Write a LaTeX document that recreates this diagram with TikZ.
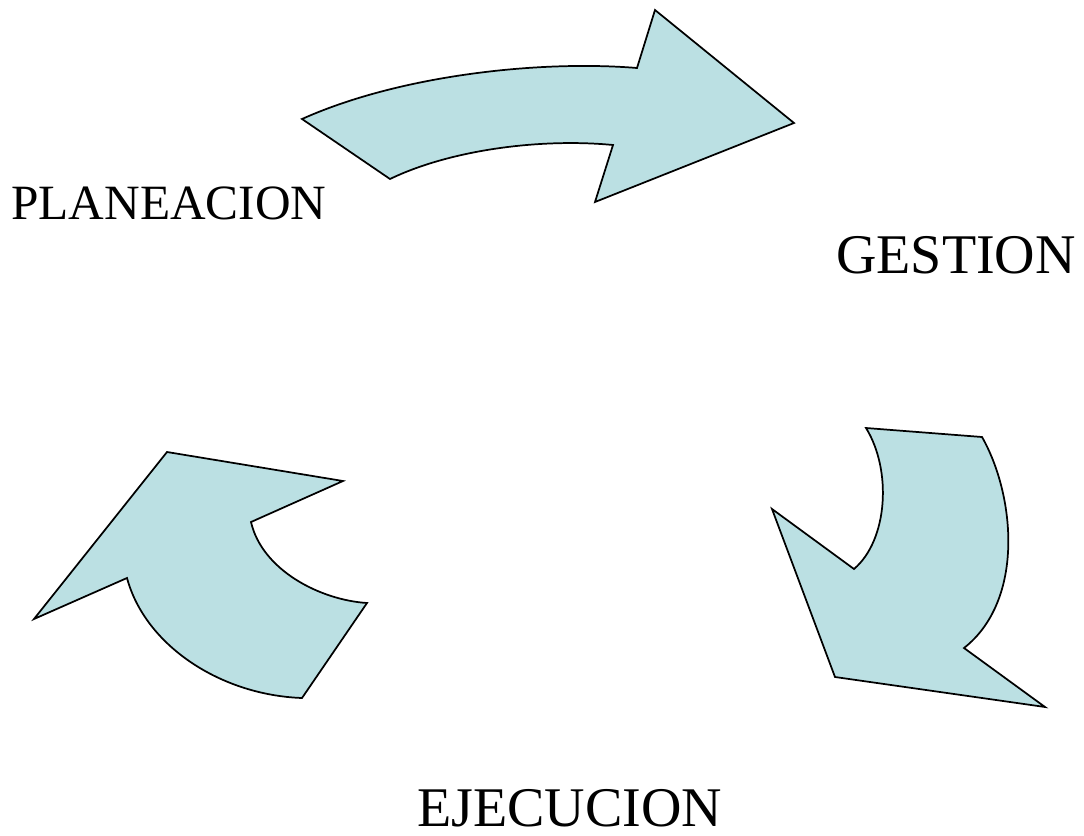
\documentclass[tikz,border=0pt]{standalone}
\usepackage{fontspec}
\setmainfont{Liberation Serif}
\definecolor{cyclefill}{RGB}{187,224,227}
\begin{document}
\begin{tikzpicture}[x=0.75pt,y=-0.75pt,
  cyclearrow/.style={draw=black,line width=1.3pt,fill=cyclefill,line join=miter},
  smalllabel/.style={anchor=base west,inner sep=0pt,font=\fontsize{37}{40}\selectfont},
  biglabel/.style={anchor=base west,inner sep=0pt,font=\fontsize{42}{46}\selectfont}]
\useasboundingbox (0,0) rectangle (1084,835);
% top arrow, planeacion -> gestion
\draw[cyclearrow] (302,119) .. controls (400,75) and (540,60) .. (637,68)
  -- (655,10) -- (794,123) -- (595,202) -- (613,145)
  .. controls (540,138) and (450,150) .. (390,179) -- cycle;
% right arrow, gestion -> ejecucion
\draw[cyclearrow] (866,428) -- (982,437)
  .. controls (1015,495) and (1025,600) .. (964,648)
  -- (1045,707) -- (835,677) -- (772,509) -- (854,569)
  .. controls (888,540) and (892,470) .. cycle;
% left arrow, ejecucion -> planeacion
\draw[cyclearrow] (167,452) -- (343,481) -- (251,522)
  .. controls (262,570) and (320,600) .. (367,603)
  -- (302,698) .. controls (220,695) and (145,645) .. (127,578)
  -- (34,619) -- cycle;
\node[smalllabel] (planeacion) at (11,219) {PLANEACION};
\node[biglabel] (gestion) at (836,273) {GESTION};
\node[biglabel] (ejecucion) at (417,826) {EJECUCION};
\end{tikzpicture}
\end{document}
